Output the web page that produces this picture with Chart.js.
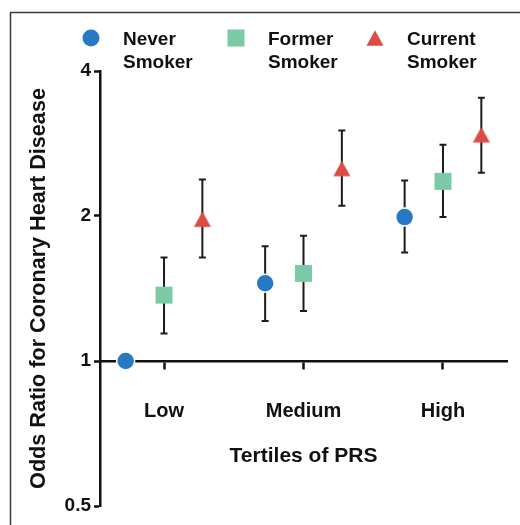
<!DOCTYPE html>
<html>
<head>
<meta charset="utf-8">
<script src="https://cdn.jsdelivr.net/npm/chart.js@4/dist/chart.umd.min.js"></script>
<style>
  html, body { margin: 0; padding: 0; background: #ffffff; }
  #wrap { width: 520px; height: 525px; position: relative; }
</style>
</head>
<body>
<div id="wrap"><canvas id="c" width="520" height="525"></canvas></div>
<script>
// ---- data ----
const categories = ['Low', 'Medium', 'High'];
const seriesLabels = [['Never', 'Smoker'], ['Former', 'Smoker'], ['Current', 'Smoker']];

const neverOR    = [1.00, 1.45, 1.99];
const neverLow   = [null, 1.21, 1.68];
const neverHigh  = [null, 1.73, 2.37];

const formerOR   = [1.37, 1.52, 2.36];
const formerLow  = [1.14, 1.27, 1.99];
const formerHigh = [1.64, 1.82, 2.81];

const currentOR   = [1.97, 2.51, 2.95];
const currentLow  = [1.64, 2.10, 2.46];
const currentHigh = [2.38, 3.01, 3.52];

const yTicks = [0.5, 1, 2, 4];
const yTitle = 'Odds Ratio for Coronary Heart Disease';
const xTitle = 'Tertiles of PRS';

// ---- styling ----
const FONT = '"Liberation Sans", Arial, Helvetica, sans-serif';
const BLUE = '#2879c4';
const GREEN = '#7bc9a7';
const RED = '#dc4b44';
const INK = '#111111';
const GROUP_OFFSET = 0.275;

// triangle marker centred on its bounding box
function makeTriangle(color, w, h) {
  const c = document.createElement('canvas');
  c.width = 22; c.height = 22;
  const g = c.getContext('2d');
  g.fillStyle = color;
  g.beginPath();
  g.moveTo(11, 11 - h / 2);
  g.lineTo(11 + w / 2, 11 + h / 2);
  g.lineTo(11 - w / 2, 11 + h / 2);
  g.closePath();
  g.fill();
  return c;
}
const triangleStyle = makeTriangle(RED, 17, 15.5);

function pts(vals, off) {
  return vals.map((v, i) => ({ x: i + off, y: v }));
}

const seriesDefs = [
  { vals: neverOR, lo: neverLow, hi: neverHigh, off: -GROUP_OFFSET, color: BLUE, style: 'circle', radius: 9, border: '#ffffff', bw: 1.5 },
  { vals: formerOR, lo: formerLow, hi: formerHigh, off: 0, color: GREEN, style: 'rect', radius: 12, border: GREEN, bw: 0 },
  { vals: currentOR, lo: currentLow, hi: currentHigh, off: GROUP_OFFSET, color: RED, style: triangleStyle, radius: 11, border: RED, bw: 0 }
];

const datasets = seriesDefs.map((s, k) => ({
  label: seriesLabels[k].join(' '),
  data: pts(s.vals, s.off),
  showLine: false,
  pointStyle: s.style,
  pointRadius: s.radius,
  pointBackgroundColor: s.color,
  pointBorderColor: s.border,
  pointBorderWidth: s.bw,
  clip: false
}));

const frame = {
  id: 'frame',
  beforeDraw(chart) {
    const ctx = chart.ctx;
    ctx.save();
    ctx.strokeStyle = '#3a3a3a';
    ctx.lineWidth = 1.5;
    ctx.strokeRect(10.5, 12.5, 700, 700);
    ctx.restore();
  }
};

const errorBars = {
  id: 'errorBars',
  beforeDatasetsDraw(chart) {
    const ctx = chart.ctx, xs = chart.scales.x, ys = chart.scales.y;
    ctx.save();
    ctx.strokeStyle = '#1c1c1c';
    ctx.lineWidth = 2;
    seriesDefs.forEach(s => {
      s.vals.forEach((v, i) => {
        if (s.lo[i] == null || s.hi[i] == null) return;
        const x = xs.getPixelForValue(i + s.off);
        const y1 = ys.getPixelForValue(s.lo[i]);
        const y2 = ys.getPixelForValue(s.hi[i]);
        ctx.beginPath();
        ctx.moveTo(x, y1); ctx.lineTo(x, y2);
        ctx.moveTo(x - 3.5, y1); ctx.lineTo(x + 3.5, y1);
        ctx.moveTo(x - 3.5, y2); ctx.lineTo(x + 3.5, y2);
        ctx.stroke();
      });
    });
    ctx.restore();
  }
};

const legendPlugin = {
  id: 'twoLineLegend',
  afterDraw(chart) {
    const ctx = chart.ctx;
    const markerX = [91, 236, 375];
    const markerY = 38;
    ctx.save();
    seriesDefs.forEach((s, k) => {
      const mx = markerX[k];
      ctx.fillStyle = s.color;
      if (s.style === 'circle') {
        ctx.beginPath(); ctx.arc(mx, markerY, 8.5, 0, Math.PI * 2); ctx.fill();
      } else if (s.style === 'rect') {
        ctx.fillRect(mx - 8.5, markerY - 8.5, 17, 17);
      } else {
        ctx.drawImage(triangleStyle, mx - 11, markerY - 11);
      }
      ctx.fillStyle = INK;
      ctx.font = 'bold 19px ' + FONT;
      ctx.textAlign = 'left';
      ctx.textBaseline = 'alphabetic';
      seriesLabels[k].forEach((line, j) => {
        ctx.fillText(line, mx + 32, 45 + j * 23);
      });
    });
    ctx.restore();
  }
};

Chart.defaults.font.family = FONT;
Chart.defaults.color = INK;

new Chart(document.getElementById('c'), {
  type: 'scatter',
  data: { datasets },
  plugins: [frame, errorBars, legendPlugin],
  options: {
    responsive: false,
    animation: false,
    events: [],
    layout: { padding: { top: 71, bottom: 19, left: 0, right: 13 } },
    plugins: { legend: { display: false }, tooltip: { enabled: false } },
    scales: {
      x: {
        type: 'linear',
        position: { y: 1 },
        min: -0.459,
        max: 2.459,
        afterBuildTicks(scale) { scale.ticks = categories.map((c, i) => ({ value: i })); },
        afterFit(scale) { scale.height = 0; },
        ticks: {
          autoSkip: false,
          maxRotation: 0,
          padding: 31,
          color: INK,
          font: { size: 20, weight: 'bold' },
          callback: (v) => categories[v]
        },
        grid: { drawOnChartArea: false, drawTicks: true, tickLength: 7, tickWidth: 2.5, tickColor: INK },
        border: { display: true, color: INK, width: 2.5 },
        title: {
          display: true,
          text: xTitle,
          color: INK,
          font: { size: 21, weight: 'bold' },
          padding: { top: 0, bottom: -108 }
        }
      },
      y: {
        type: 'logarithmic',
        position: 'left',
        min: 0.5,
        max: 4,
        afterBuildTicks(scale) { scale.ticks = yTicks.map(v => ({ value: v })); },
        afterFit(scale) { scale.width = 100; },
        ticks: {
          padding: 3,
          color: INK,
          font: { size: 19, weight: 'bold' },
          callback: (v) => String(v)
        },
        grid: { drawOnChartArea: false, drawTicks: true, tickLength: 6, tickWidth: 2.5, tickColor: INK },
        border: { display: true, color: INK, width: 2.5 },
        title: {
          display: true,
          text: yTitle,
          color: INK,
          font: { size: 21.6, weight: 'bold' },
          padding: { top: 26, bottom: 0 }
        }
      }
    }
  }
});
</script>
</body>
</html>
